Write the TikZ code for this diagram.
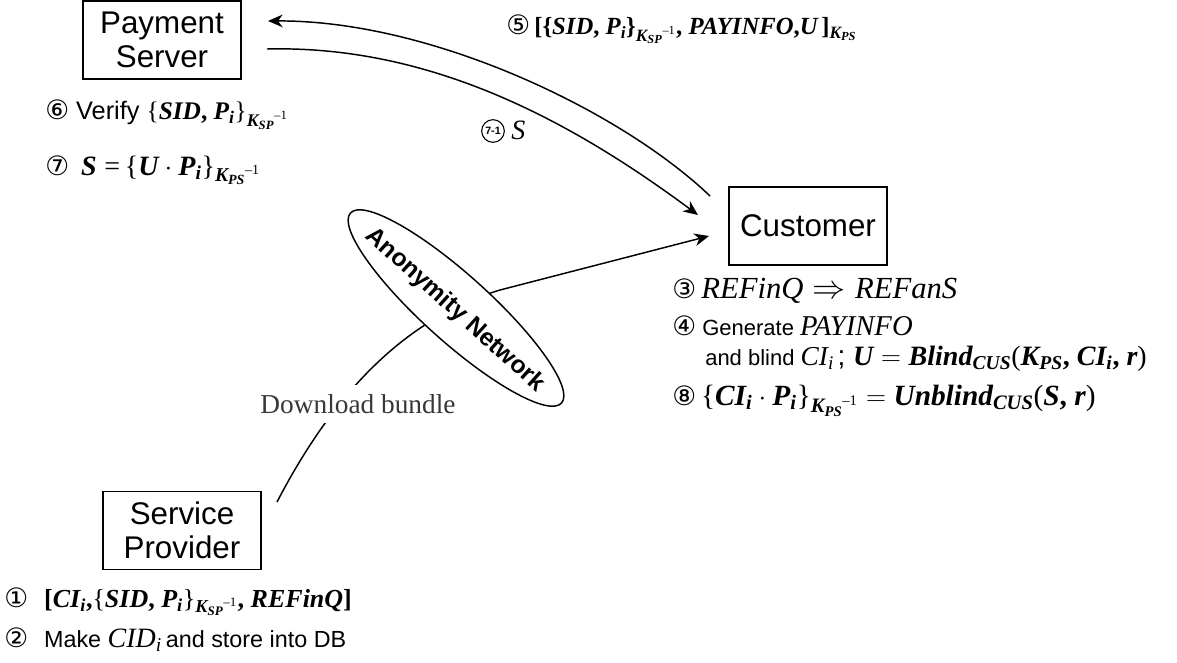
\documentclass[tikz,border=0pt]{standalone}
\usepackage{amsmath}
\usepackage{fontspec}
\setmainfont{Liberation Serif}
\setsansfont{Liberation Sans}
\newfontfamily\cfont{DejaVu Sans}
\usetikzlibrary{shapes.geometric,arrows.meta,calc}

% text-font pieces inside formulas
\newcommand\tbi[1]{\text{\normalfont\bfseries\itshape #1}}
\newcommand\tbu[1]{\text{\normalfont\bfseries #1}}
\newcommand\tit[1]{\text{\normalfont\itshape #1}}
\newcommand\tup[1]{\text{\normalfont #1}}
\newcommand\fs[2]{\fontsize{#1}{#2}\selectfont}
\newcommand\inv{\tup{–1}}
% circled step numbers
\newcommand\stepno[1]{{\cfont\fs{20}{22}#1}}

\begin{document}
\begin{tikzpicture}[x=0.75pt,y=-0.75pt,
  box/.style={draw,line width=1pt,minimum width=118.5pt,minimum height=58.5pt,
    align=center,inner sep=0pt,font=\sffamily\fs{23.5}{25.5}},
  lbl/.style={anchor=base west,inner sep=0pt},
  arr/.style={line width=1.1pt,-{Stealth[length=11pt,width=9.5pt,inset=3.5pt]}}]

\useasboundingbox (0,0) rectangle (1177,662);

% parties
\node[box] (ps) at (162,40) {Payment\\Server};
\node[box] (cu) at (808,226) {Customer};
\node[box] (sp) at (182,530.5) {Service\\Provider};

% connector end points
\coordinate (ps-in)  at (268,21);
\coordinate (ps-out) at (267,49);
\coordinate (cu-out) at (710,196);
\coordinate (cu-in1) at (698,215);
\coordinate (cu-in2) at (709,236);
\coordinate (sp-out) at (277,502);
\coordinate (bend)   at (500,290);

% payment request and signed reply
\draw[arr] (cu-out) .. controls (620,110) and (430,20) .. (ps-in);
\draw[arr] (ps-out) .. controls (430,45) and (570,120) .. (cu-in1);

% bundle download through the anonymity network
\draw[arr] (sp-out) .. controls (330,400) and (400,320) .. (bend) -- (cu-in2);
\node[fill=white,inner xsep=2pt,inner ysep=7pt,text=black!78,font=\fs{20.5}{24}]
  (dl) at (358,404) {Download bundle};
\node[ellipse,draw,fill=white,line width=1.1pt,rotate=-42,inner sep=0pt,
  minimum width=213pt,minimum height=50pt] (an) at (456,308) {};
\node[rotate=-42,font=\sffamily\bfseries\fs{18.5}{22}] (antext) at (455,310) {Anonymity Network};

% step annotations
\node[lbl,font=\fs{18.5}{21}] (l5) at (506,34)
  {\stepno{⑤}\,$\tbu{[\{}\tbi{SID}\tbu{, }\tbi{P}_{\tbi{i}}\tbu{\}}_{{\tbi{K}_{\tbi{SP}}}^{\inv}}\tbu{, }\tbi{PAYINFO}\tbu{,}\tbi{U}\,\tbu{]}_{\tbi{K}_{\tbi{PS}}}$};

\node[lbl,font=\sffamily\fs{19}{22}] (l6) at (45,119)
  {\stepno{⑥} Verify $\tup{\{}\tbi{SID}\tbu{, }\tbi{P}_{\tbi{i}}\tup{\}}_{{\tbi{K}_{\tbi{SP}}}^{\inv}}$};

\node[lbl,font=\fs{21}{24}] (l7) at (45,175)
  {\stepno{⑦}\hspace{9pt}$\tbi{S}\;\tup{=}\,\tup{\{}\tbi{U}\cdot\tbi{P}_{\tbi{i}}\tup{\}}_{{\tbi{K}_{\tbi{PS}}}^{\inv}}$};

\node[circle,draw,line width=0.8pt,inner sep=0pt,minimum size=17pt,
  font=\sffamily\bfseries\fs{8}{8}] (c71) at (493,131) {7-1};
\node[lbl,font=\itshape\fs{21}{24}] (l71) at (511,139) {S};

\node[lbl,font=\fs{23}{26}] (l3) at (672,298)
  {\stepno{③}\,$\tit{REFinQ} \Rightarrow \tit{REFanS}$};

\node[lbl,font=\sffamily\fs{16.5}{20}] (l4) at (672,335)
  {\stepno{④} Generate {\fs{21.5}{24}$\tit{PAYINFO}$}};
\node[lbl,font=\sffamily\fs{16.5}{20}] (l4b) at (705,365)
  {and blind {\fs{20.5}{24}$\tit{CI}_{\tit{i}}$}\,{\fs{21}{24}; $\tbi{U} = \tbi{Blind}_{\tbi{CUS}}\tup{(}\tbi{K}_{\tbi{PS}}\tbu{, }\tbi{CI}_{\tbi{i}}\tbu{, }\tbi{r}\tup{)}$}};

\node[lbl,font=\fs{22}{26}] (l8) at (672,405)
  {\stepno{⑧}\,$\tup{\{}\tbi{CI}_{\tbi{i}}\cdot\tbi{P}_{\tbi{i}}\tup{\}}_{{\tbi{K}_{\tbi{PS}}}^{\inv}} = \tbi{Unblind}_{\tbi{CUS}}\tup{(}\tbi{S}\tbu{, }\tbi{r}\tup{)}$};

\node[lbl,font=\fs{19.5}{22}] (l1) at (4,607)
  {\stepno{①}\hspace{12pt}$\tbu{[}\tbi{CI}_{\tbi{i}}\tbu{,}\tup{\{}\tbi{SID}\tbu{, }\tbi{P}_{\tbi{i}}\tup{\}}_{{\tbi{K}_{\tbi{SP}}}^{\inv}}\tbu{, }\tbi{REFinQ}\tbu{]}$};

\node[lbl,font=\sffamily\fs{17.5}{20}] (l2) at (4,647)
  {\stepno{②}\hspace{12pt}Make {\fs{21}{24}$\tit{CID}_{\tit{i}}$}\,and store into DB};

\end{tikzpicture}
\end{document}
